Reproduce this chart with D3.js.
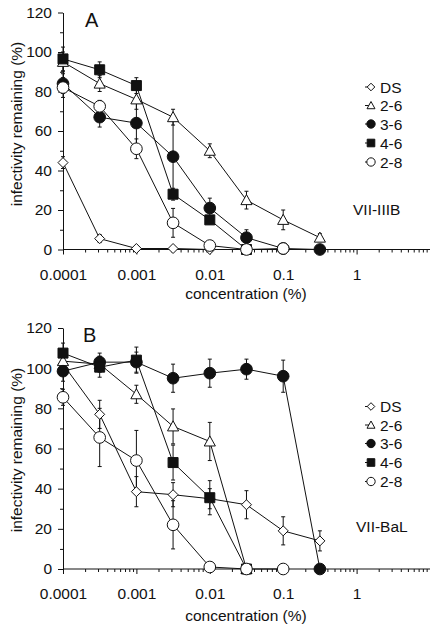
<!DOCTYPE html>
<html><head><meta charset="utf-8">
<script src="https://cdn.jsdelivr.net/npm/d3@7"></script>
<style>
html,body{margin:0;padding:0;background:#fff;}
svg{display:block;font-family:"Liberation Sans",Arial,Helvetica,sans-serif;}
</style></head>
<body><svg id="chart" width="437" height="628"></svg>
<script>
// ---------- data ----------
const concentrations = [0.0001, 0.000316, 0.001, 0.00316, 0.01, 0.0316, 0.1, 0.316];
const seriesNames = ["DS", "2-6", "3-6", "4-6", "2-8"];
const seriesShapes = ["diamond", "triangle", "filledCircle", "filledSquare", "openCircle"];
const xTickLabels = ["0.0001", "0.001", "0.01", "0.1", "1"];
const xTickValues = [0.0001, 0.001, 0.01, 0.1, 1];
const yTickValues = [0, 20, 40, 60, 80, 100, 120];

// Panel A (VII-IIIB)
const aDS   = [44, 5.5, 0.5, 0.5, 0, 0, null, null];
const a2_6  = [95, 84, 76, 67, 50, 25, 15, 6];
const a3_6  = [84, 67, 64, 47, 21, 6, 0.5, 0];
const a4_6  = [96.5, 91, 83, 28, 15, 0, null, null];
const a2_8  = [82, 72.5, 51, 13.5, 2, 0, 0.5, null];
const aErrDS  = [3, 2, 0, 0, 0, 0, null, null];
const aErr2_6 = [5, 4, 5, 4, 3.5, 4.5, 5, 2];
const aErr3_6 = [5, 5, 12, 18.5, 5, 4, 0, 0];
const aErr4_6 = [6, 4, 4, 3, 2, 0, null, null];
const aErr2_8 = [5, 3, 5, 7.3, 1, 0, 0, null];

// Panel B (VII-BaL)
const bDS   = [102, 77, 38.5, 37, 35, 32, 19, 14];
const b2_6  = [103.5, 102, 87, 71, 63.5, 0, null, null];
const b3_6  = [98.5, 103, 103, 95, 97.5, 99.5, 96, 0];
const b4_6  = [107.5, 100.5, 104, 53, 35.5, 0, null, null];
const b2_8  = [85.5, 65.5, 54, 22, 1, 0, 0, null];
const bErrDS  = [4, 7, 7.5, 6, 5, 7, 7, 5];
const bErr2_6 = [4, 4, 4.5, 8.7, 9.5, 2, null, null];
const bErr3_6 = [5, 4.5, 5, 7, 7, 5, 8, 0];
const bErr4_6 = [5, 5, 6.5, 8.7, 8.5, 0, null, null];
const bErr2_8 = [4, 14.5, 15, 12, 0, 0, 0, null];

const panels = [
  {label:"A", strain:"VII-IIIB", values:[aDS,a2_6,a3_6,a4_6,a2_8], errors:[aErrDS,aErr2_6,aErr3_6,aErr4_6,aErr2_8],
   yTop:12.5, yBot:249.5, labelPos:[85,27], strainPos:[353,215], legendY:[87,105.5,124,143,162],
   yTitleY:124, xTitleY:299},
  {label:"B", strain:"VII-BaL", values:[bDS,b2_6,b3_6,b4_6,b2_8], errors:[bErrDS,bErr2_6,bErr3_6,bErr4_6,bErr2_8],
   yTop:328, yBot:569, labelPos:[83,342], strainPos:[356,532], legendY:[406.5,425,443.5,462.5,481.5],
   yTitleY:450, xTitleY:621}
];

// ---------- drawing ----------
const svg = d3.select("#chart");
const X0 = 63, X1 = 430;
const INK = "#111";
const FS = 15.5;

function shapePath(shape, s) {
  switch (shape) {
    case "diamond": return `M0,${-s}L${s},0L0,${s}L${-s},0Z`;
    case "triangle": return `M0,${-s*1.05}L${s*1.05},${s*0.85}L${-s*1.05},${s*0.85}Z`;
    case "filledSquare": return `M${-s},${-s}H${s}V${s}H${-s}Z`;
    default: return d3.arc()({innerRadius:0, outerRadius:s*1.1, startAngle:0, endAngle:2*Math.PI});
  }
}
function fillOf(shape){ return (shape==="filledCircle"||shape==="filledSquare") ? INK : "#fff"; }

panels.forEach(p => {
  const x = d3.scaleLog().domain([0.0001, 10]).range([X0, X1]);
  const y = d3.scaleLinear().domain([0, 120]).range([p.yBot, p.yTop]);
  const g = svg.append("g");

  const minorX = [];
  for (let e = -4; e < 1; e++) for (let m = 2; m <= 9; m++) minorX.push(m * Math.pow(10, e));
  g.append("g").attr("transform", `translate(0,${p.yBot})`)
    .call(d3.axisBottom(x).tickValues(minorX).tickSize(3).tickFormat(""))
    .call(a => { a.select(".domain").remove(); a.selectAll("line").attr("stroke", INK); });
  g.append("g").attr("transform", `translate(0,${p.yBot})`)
    .call(d3.axisBottom(x).tickValues(xTickValues).tickSize(5).tickSizeOuter(0).tickPadding(14)
      .tickFormat((d,i) => xTickLabels[i]))
    .call(a => {
      a.select(".domain").attr("stroke", INK).attr("d", `M${X0},0H${X1}`);
      a.selectAll("line").attr("stroke", INK);
      a.selectAll("text").attr("fill", INK).style("font-size", FS+"px").style("font-family", "inherit");
    });

  g.append("g").attr("transform", `translate(${X0},0)`)
    .call(d3.axisLeft(y).tickValues(d3.range(10, 120, 20)).tickSize(3).tickFormat(""))
    .call(a => { a.select(".domain").remove(); a.selectAll("line").attr("stroke", INK); });
  g.append("g").attr("transform", `translate(${X0},0)`)
    .call(d3.axisLeft(y).tickValues(yTickValues).tickSize(5).tickSizeOuter(0).tickPadding(6))
    .call(a => {
      a.select(".domain").attr("stroke", INK);
      a.selectAll("line").attr("stroke", INK);
      a.selectAll("text").attr("fill", INK).style("font-size", FS+"px").style("font-family", "inherit");
    });

  g.append("text").attr("transform", `translate(22,${p.yTitleY}) rotate(-90)`)
    .attr("text-anchor", "middle").attr("fill", INK).style("font-size", FS+"px")
    .text("infectivity remaining (%)");
  g.append("text").attr("x", 246).attr("y", p.xTitleY).attr("text-anchor", "middle")
    .attr("fill", INK).style("font-size", FS+"px").text("concentration (%)");

  g.append("text").attr("x", p.labelPos[0]).attr("y", p.labelPos[1]).attr("fill", INK)
    .style("font-size", "20px").text(p.label);
  g.append("text").attr("x", p.strainPos[0]).attr("y", p.strainPos[1]).attr("fill", INK)
    .style("font-size", "15.5px").text(p.strain);

  const line = d3.line().defined(d => d[1] != null).x(d => x(d[0])).y(d => y(d[1]));
  p.values.forEach(vals => {
    const pts = concentrations.map((c, i) => [c, vals[i]]);
    g.append("path").attr("d", line(pts)).attr("fill", "none").attr("stroke", INK).attr("stroke-width", 1);
  });
  p.values.forEach((vals, si) => {
    const errs = p.errors[si];
    concentrations.forEach((c, i) => {
      const v = vals[i], e = errs[i];
      if (v == null || !e) return;
      const cx = x(c), y1 = y(v + e), y2 = y(Math.max(v - e, 0));
      g.append("path").attr("d", `M${cx},${y1}V${y2}M${cx-2},${y1}H${cx+2}M${cx-2},${y2}H${cx+2}`)
        .attr("stroke", INK).attr("stroke-width", 1).attr("fill", "none");
    });
  });
  p.values.forEach((vals, si) => {
    const shape = seriesShapes[si];
    const size = shape === "filledSquare" ? 5 : (shape === "diamond" ? 5 : 5.3);
    concentrations.forEach((c, i) => {
      if (vals[i] == null) return;
      g.append("path").attr("transform", `translate(${x(c)},${y(vals[i])})`)
        .attr("d", shapePath(shape, size))
        .attr("fill", fillOf(shape)).attr("stroke", INK).attr("stroke-width", 1);
    });
  });

  seriesNames.forEach((name, si) => {
    const ly = p.legendY[si], lx = 371;
    const shape = seriesShapes[si];
    g.append("path").attr("d", `M${lx-6},${ly}H${lx}`).attr("stroke", INK).attr("stroke-width", 1);
    g.append("path").attr("transform", `translate(${lx},${ly})`).attr("d", shapePath(shape, 3.8))
      .attr("fill", fillOf(shape)).attr("stroke", INK).attr("stroke-width", 1);
    g.append("text").attr("x", 380).attr("y", ly + 5.5).attr("fill", INK)
      .style("font-size", "15.5px").text(name);
  });
});
</script></body></html>
